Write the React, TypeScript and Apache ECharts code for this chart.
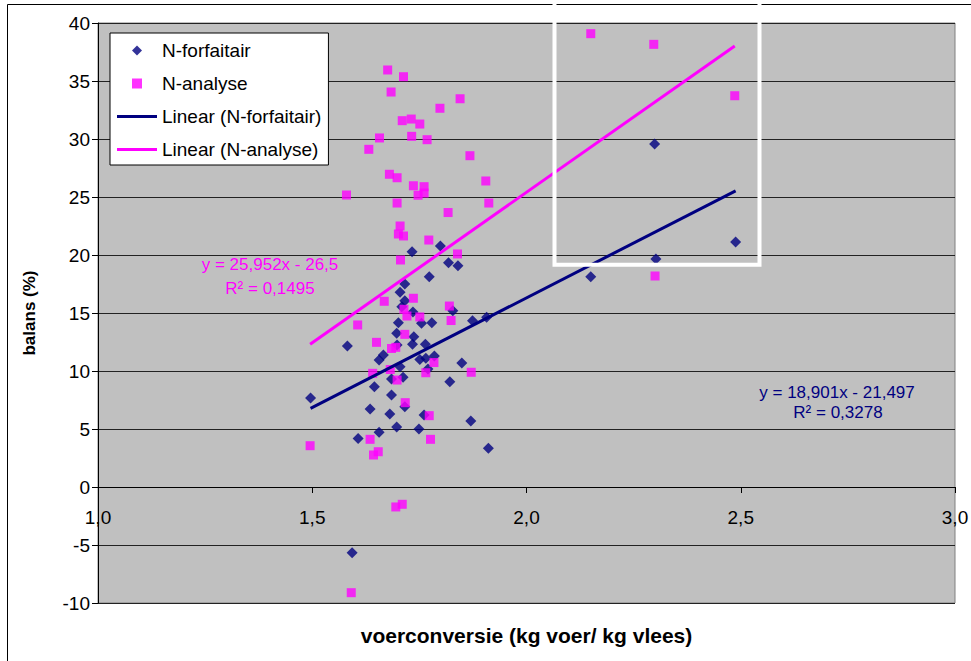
import React, { useEffect, useRef } from 'react';
import * as echarts from 'echarts';

const seriesNames = ['N-forfaitair', 'N-analyse', 'Linear (N-forfaitair)', 'Linear (N-analyse)'];

// [voerconversie, balans %]
const forfaitair: [number, number][] = [
  [1.496, 7.67], [1.582, 12.16], [1.593, -5.66], [1.607, 4.18], [1.635, 6.72], [1.645, 8.65],
  [1.656, 4.72], [1.656, 10.95], [1.666, 11.38], [1.681, 6.29], [1.685, 7.93], [1.685, 9.31],
  [1.697, 5.17], [1.697, 13.25], [1.698, 12.24], [1.701, 14.16], [1.705, 10.37], [1.705, 16.78],
  [1.712, 9.46], [1.716, 16.06], [1.716, 17.5], [1.716, 6.92], [1.709, 15.54], [1.735, 15.09],
  [1.733, 20.28], [1.734, 12.3], [1.737, 12.96], [1.751, 11.0], [1.749, 5.0], [1.755, 14.11],
  [1.761, 6.21], [1.764, 12.3], [1.765, 11.09], [1.77, 10.17], [1.773, 18.13], [1.779, 14.16],
  [1.785, 11.29], [1.799, 20.78], [1.818, 19.34], [1.821, 9.08], [1.828, 15.2], [1.84, 19.08],
  [1.849, 10.69], [1.87, 5.69], [1.874, 14.34], [1.907, 14.63], [1.911, 3.34], [2.15, 18.13],
  [2.299, 29.57], [2.302, 19.66], [2.488, 21.12],
];

const analyse: [number, number][] = [
  [1.495, 3.56], [1.58, 25.17], [1.591, -9.11], [1.606, 13.97], [1.632, 29.11], [1.635, 4.11],
  [1.643, 2.76], [1.654, 3.04], [1.65, 12.47], [1.641, 9.8], [1.657, 30.09], [1.668, 16.01],
  [1.676, 35.95], [1.68, 26.96], [1.684, 34.05], [1.682, 10.13], [1.685, 11.94], [1.695, 12.04],
  [1.695, -1.72], [1.71, -1.49], [1.698, 26.66], [1.698, 24.48], [1.698, 9.22], [1.705, 22.5],
  [1.701, 21.81], [1.713, 21.64], [1.706, 19.57], [1.71, 31.58], [1.713, 35.37], [1.714, 15.32],
  [1.721, 14.74], [1.716, 13.16], [1.717, 7.27], [1.731, 31.72], [1.732, 30.23], [1.736, 25.97],
  [1.736, 16.27], [1.747, 25.15], [1.751, 31.29], [1.751, 14.66], [1.761, 25.34], [1.761, 25.89],
  [1.765, 9.85], [1.768, 29.94], [1.772, 21.29], [1.773, 6.15], [1.776, 4.11], [1.784, 10.73],
  [1.798, 32.65], [1.817, 23.66], [1.82, 15.6], [1.824, 14.35], [1.839, 20.09], [1.845, 33.47],
  [1.868, 28.56], [1.871, 9.89], [1.905, 26.38], [1.912, 24.48], [2.15, 39.08], [2.297, 38.16],
  [2.3, 18.19], [2.486, 33.73],
];

// trend line end points
const trendForfaitair: [number, number][] = [[1.496, 6.78], [2.488, 25.53]];
const trendAnalyse: [number, number][] = [[1.495, 12.3], [2.486, 38.02]];

const eqForfaitair = ['y = 18,901x - 21,497', 'R² = 0,3278'];
const eqAnalyse = ['y = 25,952x - 26,5', 'R² = 0,1495'];

const xName = 'voerconversie (kg voer/ kg vlees)';
const yName = 'balans (%)';

const NAVY = '#000080';
const PINK = '#FF00FF';
const FONT = '"Liberation Sans", Arial, sans-serif';

const ICON_DIAMOND = 'path://M5,0L10,5L5,10L0,5Z';
const ICON_SQUARE = 'path://M0,0H10V10H0Z';
const ICON_LINE = 'path://M0,0H40V3H0Z';

// grid geometry (pixels)
const GRID_TOP = 23;
const GRID_BOTTOM = 58;
const CHART_H = 661;
const Y_MIN = -10;
const Y_MAX = 40;

export default function App() {
  const ref = useRef<HTMLDivElement>(null);
  useEffect(() => {
    if (!ref.current) return;
    const chart = echarts.init(ref.current, undefined, { renderer: 'svg' });
    // place the x axis on the zero line of the y axis
    const gridH = CHART_H - GRID_TOP - GRID_BOTTOM;
    const zeroOffset = -(gridH * (0 - Y_MIN)) / (Y_MAX - Y_MIN);
    chart.setOption({
      animation: false,
      backgroundColor: '#ffffff',
      textStyle: { fontFamily: FONT },
      grid: {
        left: 98, top: GRID_TOP, right: 16, bottom: GRID_BOTTOM,
        containLabel: false, outerBoundsMode: 'none',
        show: true, backgroundColor: '#C0C0C0', borderColor: '#808080', borderWidth: 1,
      },
      legend: {
        orient: 'vertical', left: 110, top: 33,
        backgroundColor: '#ffffff', borderColor: '#000000', borderWidth: 1,
        padding: [8, 7, 6, 7], itemGap: 14, itemWidth: 40, itemHeight: 10,
        symbolKeepAspect: true,
        textStyle: { fontSize: 19, color: '#000', fontFamily: FONT },
        data: [
          { name: seriesNames[0], icon: ICON_DIAMOND },
          { name: seriesNames[1], icon: ICON_SQUARE },
          { name: seriesNames[2], icon: ICON_LINE },
          { name: seriesNames[3], icon: ICON_LINE },
        ],
      },
      xAxis: {
        type: 'value', min: 1, max: 3, interval: 0.5,
        position: 'bottom', offset: zeroOffset,
        name: xName, nameLocation: 'middle', nameGap: 138,
        nameTextStyle: { fontSize: 21, fontWeight: 'bold', color: '#000', fontFamily: FONT },
        axisLine: { show: true, onZero: false, lineStyle: { color: '#000', width: 1 } },
        axisTick: { show: true, inside: false, length: 6, lineStyle: { color: '#000' } },
        axisLabel: {
          margin: 21, fontSize: 19, color: '#000', fontFamily: FONT,
          showMinLabel: true, showMaxLabel: true,
          formatter: (v: number) => v.toFixed(1).replace('.', ','),
        },
        splitLine: { show: false },
      },
      yAxis: {
        type: 'value', min: Y_MIN, max: Y_MAX, interval: 5,
        name: yName, nameLocation: 'middle', nameGap: 60, nameRotate: 90,
        nameTextStyle: { fontSize: 17, fontWeight: 'bold', color: '#000', fontFamily: FONT },
        axisLine: { show: true, lineStyle: { color: '#000', width: 1 } },
        axisTick: { show: true, inside: false, length: 6, lineStyle: { color: '#000' } },
        axisLabel: { margin: 8, fontSize: 19, color: '#000', fontFamily: FONT },
        splitLine: { show: true, lineStyle: { color: '#222', width: 1 } },
      },
      series: [
        {
          name: seriesNames[0], type: 'scatter', symbol: 'diamond', symbolSize: 11,
          itemStyle: { color: NAVY }, data: forfaitair, z: 3,
        },
        {
          name: seriesNames[1], type: 'scatter', symbol: 'rect', symbolSize: 9,
          itemStyle: { color: PINK }, data: analyse, z: 4,
        },
        {
          name: seriesNames[2], type: 'line', symbol: 'none', showSymbol: false,
          lineStyle: { color: NAVY, width: 3 }, itemStyle: { color: NAVY },
          data: trendForfaitair, z: 5,
        },
        {
          name: seriesNames[3], type: 'line', symbol: 'none', showSymbol: false,
          lineStyle: { color: PINK, width: 3 }, itemStyle: { color: PINK },
          data: trendAnalyse, z: 5,
        },
      ],
      graphic: [
        {
          type: 'rect', z: 0, silent: true,
          shape: { x: 7.5, y: 4.5, width: 1000, height: 700 },
          style: { fill: 'none', stroke: '#000', lineWidth: 1 },
        },
        {
          type: 'rect', z: 100, silent: true,
          shape: { x: 554.5, y: -10, width: 205, height: 274.7 },
          style: { fill: 'none', stroke: '#ffffff', lineWidth: 4 },
        },
        {
          type: 'text', z: 100, x: 270, y: 264,
          style: { text: eqAnalyse[0], fill: PINK, font: `17px ${FONT}`, align: 'center', verticalAlign: 'middle' },
        },
        {
          type: 'text', z: 100, x: 270, y: 288,
          style: { text: eqAnalyse[1], fill: PINK, font: `17px ${FONT}`, align: 'center', verticalAlign: 'middle' },
        },
        {
          type: 'text', z: 100, x: 837, y: 392,
          style: { text: eqForfaitair[0], fill: NAVY, font: `17px ${FONT}`, align: 'center', verticalAlign: 'middle' },
        },
        {
          type: 'text', z: 100, x: 838, y: 412,
          style: { text: eqForfaitair[1], fill: NAVY, font: `17px ${FONT}`, align: 'center', verticalAlign: 'middle' },
        },
      ],
    });
    return () => chart.dispose();
  }, []);
  return <div ref={ref} style={{ position: 'absolute', left: 0, top: 0, width: 971, height: 661 }} />;
}
